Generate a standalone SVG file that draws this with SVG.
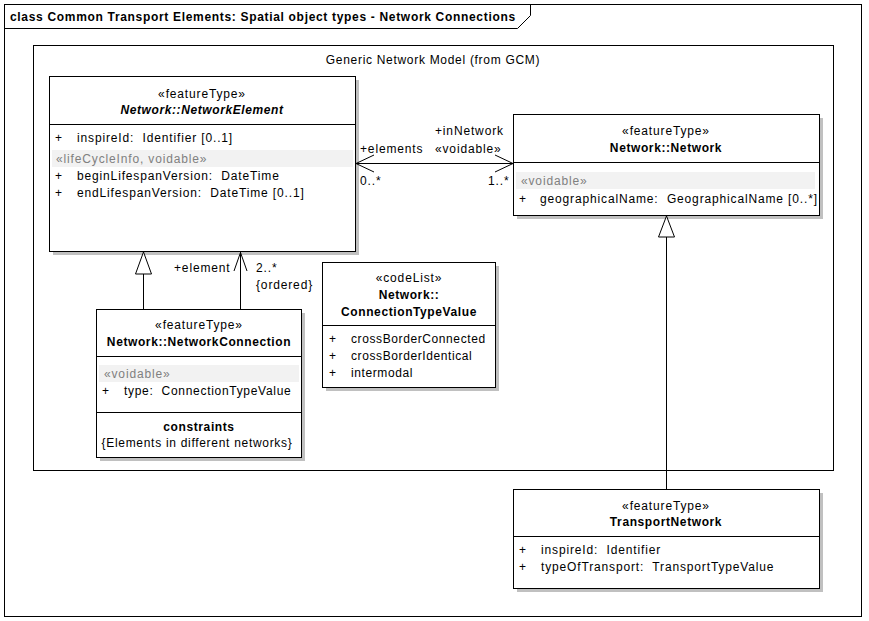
<svg xmlns="http://www.w3.org/2000/svg" width="869" height="621" viewBox="0 0 869 621">
<style>
text{font-family:"Liberation Sans",Arial,sans-serif;font-size:12px;letter-spacing:0.85px;fill:#000;white-space:pre}
.b{font-weight:bold;letter-spacing:0.6px}
.bi{font-weight:bold;font-style:italic;letter-spacing:0.6px}
.t{font-weight:bold;letter-spacing:0.68px}
.c{text-anchor:middle}
.g{fill:#808080}
.box{fill:#fff;stroke:#000;stroke-width:1}
.sh{fill:#c0c0c0}
.band{fill:#f2f2f2}
.ln{stroke:#000;stroke-width:1;fill:none}
</style>
<rect x="0" y="0" width="869" height="621" fill="#fff"/>
<g id="frame">
<rect x="4.5" y="4.5" width="857" height="612" class="ln"/>
<path d="M4.5 28.5 H517.5 L530.5 15.5 V4.5" class="ln"/>
<text x="10" y="21" class="t">class Common Transport Elements: Spatial object types - Network Connections</text>
</g>
<g id="package">
<rect x="33.5" y="45.5" width="800" height="425" class="ln"/>
<text x="433" y="64" class="c" style="letter-spacing:0.7px">Generic Network Model (from GCM)</text>
</g>
<g id="NetworkElement">
<rect x="53" y="80" width="306" height="175" class="sh"/>
<rect x="49.5" y="76.5" width="306" height="175" class="box"/>
<line x1="49.5" y1="124.5" x2="355.5" y2="124.5" class="ln"/>
<text x="202" y="98" class="c">«featureType»</text>
<text x="202" y="114" class="c bi">Network::NetworkElement</text>
<text x="55" y="142">+</text><text x="77" y="142">inspireId:  Identifier [0..1]</text>
<rect x="52" y="150" width="301" height="17" class="band"/>
<text x="56" y="163" class="g">«lifeCycleInfo, voidable»</text>
<text x="55" y="180">+</text><text x="77" y="180">beginLifespanVersion:  DateTime</text>
<text x="55" y="197">+</text><text x="77" y="197">endLifespanVersion:  DateTime [0..1]</text>
</g>
<g id="Network">
<rect x="517" y="118" width="306" height="101" class="sh"/>
<rect x="513.5" y="114.5" width="306" height="101" class="box"/>
<line x1="513.5" y1="162.5" x2="819.5" y2="162.5" class="ln"/>
<text x="666" y="135" class="c">«featureType»</text>
<text x="666" y="152" class="c b">Network::Network</text>
<rect x="516" y="172" width="299" height="17" class="band"/>
<text x="521" y="185" class="g">«voidable»</text>
<text x="519" y="203">+</text><text x="540" y="203">geographicalName:  GeographicalName [0..*]</text>
</g>
<g id="NetworkConnection">
<rect x="100" y="313" width="205" height="148" class="sh"/>
<rect x="96.5" y="309.5" width="205" height="148" class="box"/>
<line x1="96.5" y1="356.5" x2="301.5" y2="356.5" class="ln"/>
<line x1="96.5" y1="412.5" x2="301.5" y2="412.5" class="ln"/>
<text x="199" y="329" class="c">«featureType»</text>
<text x="199" y="346" class="c b">Network::NetworkConnection</text>
<rect x="99" y="365" width="200" height="17" class="band"/>
<text x="104" y="378" class="g">«voidable»</text>
<text x="102" y="395">+</text><text x="124" y="395" style="letter-spacing:0.7px">type:  ConnectionTypeValue</text>
<text x="199" y="431" class="c b">constraints</text>
<text x="197" y="447" class="c" style="letter-spacing:0.7px">{Elements in different networks}</text>
</g>
<g id="ConnectionTypeValue">
<rect x="326" y="266" width="173" height="125" class="sh"/>
<rect x="322.5" y="262.5" width="173" height="125" class="box"/>
<line x1="322.5" y1="325.5" x2="495.5" y2="325.5" class="ln"/>
<text x="409" y="282" class="c">«codeList»</text>
<text x="409" y="299" class="c b">Network::</text>
<text x="409" y="316" class="c b">ConnectionTypeValue</text>
<text x="329" y="343">+</text><text x="351" y="343" style="letter-spacing:0.6px">crossBorderConnected</text>
<text x="329" y="360">+</text><text x="351" y="360" style="letter-spacing:0.6px">crossBorderIdentical</text>
<text x="329" y="377">+</text><text x="351" y="377" style="letter-spacing:0.6px">intermodal</text>
</g>
<g id="TransportNetwork">
<rect x="517" y="493" width="306" height="99" class="sh"/>
<rect x="513.5" y="489.5" width="306" height="99" class="box"/>
<line x1="513.5" y1="536.5" x2="819.5" y2="536.5" class="ln"/>
<text x="666" y="510" class="c">«featureType»</text>
<text x="666" y="526" class="c b">TransportNetwork</text>
<text x="519" y="554">+</text><text x="541" y="554">inspireId:  Identifier</text>
<text x="519" y="571">+</text><text x="541" y="571">typeOfTransport:  TransportTypeValue</text>
</g>
<g id="connectors">
<line x1="355.5" y1="163.5" x2="513.5" y2="163.5" class="ln"/>
<path d="M374 155 L356 163.5 L374 172" class="ln"/>
<path d="M495 155 L513 163.5 L495 172" class="ln"/>
<text x="360" y="153">+elements</text>
<text x="360" y="185">0..*</text>
<text x="435" y="135">+inNetwork</text>
<text x="435" y="153">«voidable»</text>
<text x="488" y="185">1..*</text>
<line x1="143.5" y1="309" x2="143.5" y2="274" class="ln"/>
<path d="M135.5 274 L143.5 252 L151.5 274 Z" fill="#fff" stroke="#000"/>
<line x1="240.5" y1="309" x2="240.5" y2="252" class="ln"/>
<path d="M234 271 L240.5 252.5 L247 271" class="ln"/>
<text x="174" y="272">+element</text>
<text x="256" y="272">2..*</text>
<text x="256" y="289">{ordered}</text>
<line x1="666.5" y1="489" x2="666.5" y2="237" class="ln"/>
<path d="M658.5 237 L666.5 216 L674.5 237 Z" fill="#fff" stroke="#000"/>
</g>
</svg>
